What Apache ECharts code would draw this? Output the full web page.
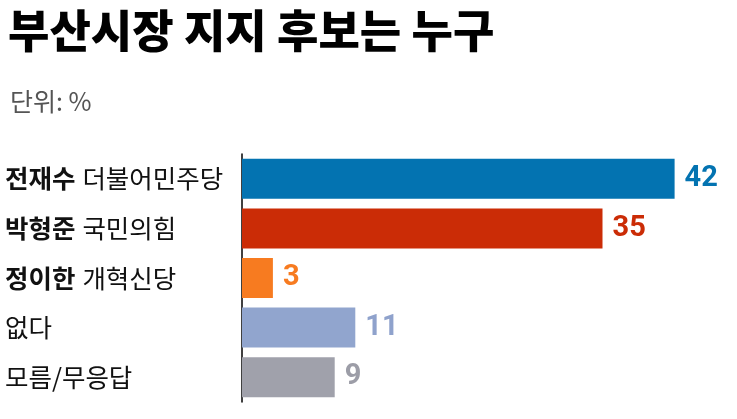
<!DOCTYPE html>
<html>
<head>
<meta charset="utf-8">
<script src="https://cdn.jsdelivr.net/npm/echarts@6/dist/echarts.min.js"></script>
<style>
  html, body { margin: 0; padding: 0; background: #fff; }
  #chart { width: 737px; height: 419px; }
</style>
</head>
<body>
<div id="chart"></div>
<script>
// data
var names = ['전재수', '박형준', '정이한', '없다', '모름/무응답'];
var parties = ['더불어민주당', '국민의힘', '개혁신당', '', ''];
var values = [42, 35, 3, 11, 9];
var barColors = ['#0373b1', '#cb2c06', '#f77b20', '#91a5ce', '#a0a1ab'];
var labelColors = ['#0373b1', '#cb2c06', '#f77b20', '#8fa2cc', '#9c9da7'];

var font = '"Noto Sans CJK KR", "Noto Sans", sans-serif';

var myChart = echarts.init(document.getElementById('chart'));

var cats = names.map(function (n, i) {
  return parties[i] ? n + '|' + parties[i] : n;
});

myChart.setOption({
  backgroundColor: '#fff',
  animation: false,
  title: [
    {
      text: '부산시장 지지 후보는 누구',
      left: 3,
      top: 3,
      textStyle: { fontFamily: font, fontSize: 45, fontWeight: 900, color: '#000' }
    },
    {
      text: '단위: %',
      left: 5,
      top: 84,
      textStyle: { fontFamily: font, fontSize: 25, fontWeight: 400, color: '#555' }
    }
  ],
  grid: { left: 242, top: 154, width: 463.5, height: 248 },
  xAxis: {
    type: 'value',
    min: 0,
    max: 45,
    show: false
  },
  yAxis: {
    type: 'category',
    inverse: true,
    data: cats,
    axisLine: { show: true, lineStyle: { color: '#000', width: 1.5 } },
    axisTick: { show: false },
    axisLabel: {
      margin: 237,
      align: 'left',
      formatter: function (v) {
        var p = v.split('|');
        if (p.length > 1) return '{b|' + p[0] + '}{r|' + p[1] + '}';
        return '{s|' + p[0] + '}';
      },
      rich: {
        b: { fontFamily: font, fontSize: 25.5, fontWeight: 700, color: '#111' },
        r: { fontFamily: font, fontSize: 25.5, fontWeight: 400, color: '#111', padding: [0, 0, 0, 7] },
        s: { fontFamily: font, fontSize: 25.5, fontWeight: 400, color: '#111' }
      }
    }
  },
  series: [
    {
      type: 'bar',
      barWidth: 40,
      data: values.map(function (v, i) {
        return {
          value: v,
          itemStyle: { color: barColors[i] },
          label: { color: labelColors[i] }
        };
      }),
      label: {
        show: true,
        position: 'right',
        distance: 10,
        fontFamily: 'Roboto, "Liberation Sans", sans-serif',
        fontWeight: 'bold',
        fontSize: 29
      }
    }
  ]
});
</script>
</body>
</html>
